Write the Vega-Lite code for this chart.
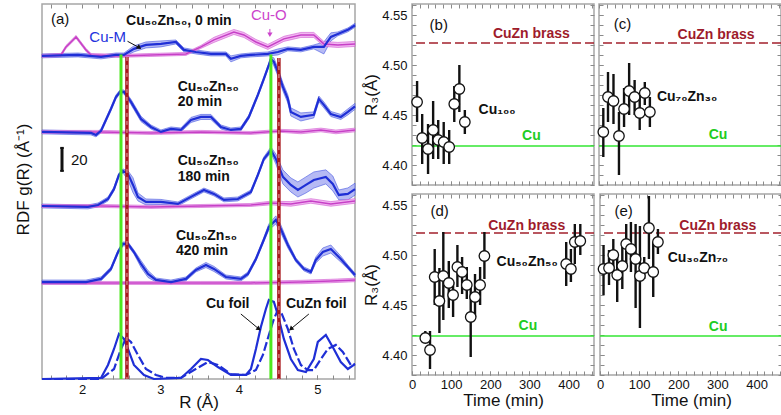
{
"$schema":"https://vega.github.io/schema/vega-lite/v6.json",
"padding":{"left":13,"top":2,"right":0,"bottom":0},
"background":"white",
"config":{"font":"Liberation Sans","view":{"stroke":"#a6a6a6","strokeWidth":1.5},
"axis":{"domain":false,"grid":false,"tickColor":"#8a8a8a","labelFont":"Liberation Sans","titleFont":"Liberation Sans","labelColor":"#111","titleColor":"#111","labelFontSize":13,"titleFontSize":17,"titleFontWeight":"normal","labelFlush":false,"labelOverlap":false,"minExtent":0},
"text":{"font":"Liberation Sans"}},
"datasets":{
"rdf":[
{"s":"b0","R":1.49,"v":280.9,"lo":279.2,"hi":282.6},{"s":"b0","R":1.949,"v":281.7,"lo":280.0,"hi":283.4},{"s":"b0","R":2.242,"v":280.0,"lo":278.3,"hi":281.7},{"s":"b0","R":2.433,"v":281.7,"lo":280.0,"hi":283.4},{"s":"b0","R":2.535,"v":281.7,"lo":280.0,"hi":283.4},{"s":"b0","R":2.662,"v":287.0,"lo":284.4,"hi":289.6},{"s":"b0","R":2.815,"v":290.4,"lo":287.8,"hi":293.0},{"s":"b0","R":3.006,"v":291.3,"lo":288.7,"hi":293.9},{"s":"b0","R":3.197,"v":293.0,"lo":291.3,"hi":294.7},{"s":"b0","R":3.299,"v":286.1,"lo":284.4,"hi":287.8},{"s":"b0","R":3.452,"v":284.3,"lo":282.6,"hi":286.0},{"s":"b0","R":3.643,"v":282.6,"lo":280.9,"hi":284.3},{"s":"b0","R":3.834,"v":282.6,"lo":280.9,"hi":284.3},{"s":"b0","R":3.898,"v":278.3,"lo":275.7,"hi":280.9},{"s":"b0","R":4.025,"v":280.9,"lo":279.2,"hi":282.6},{"s":"b0","R":4.153,"v":281.7,"lo":280.0,"hi":283.4},{"s":"b0","R":4.369,"v":282.6,"lo":280.9,"hi":284.3},{"s":"b0","R":4.497,"v":284.3,"lo":281.7,"hi":286.9},{"s":"b0","R":4.624,"v":287.0,"lo":285.3,"hi":288.7},{"s":"b0","R":4.79,"v":286.1,"lo":284.4,"hi":287.8},{"s":"b0","R":4.955,"v":288.7,"lo":287.0,"hi":290.4},{"s":"b0","R":5.083,"v":288.7,"lo":282.6,"hi":293.0},{"s":"b0","R":5.172,"v":297.4,"lo":293.9,"hi":300.9},{"s":"b0","R":5.261,"v":300.0,"lo":298.3,"hi":301.7},{"s":"b0","R":5.389,"v":303.5,"lo":301.8,"hi":305.2},{"s":"b0","R":5.48,"v":307.5,"lo":305.8,"hi":309.2},
{"s":"m0","R":1.49,"v":280.9,"lo":279.6,"hi":282.2},{"s":"m0","R":1.732,"v":281.7,"lo":280.4,"hi":283.0},{"s":"m0","R":1.796,"v":288.7,"lo":287.4,"hi":290.0},{"s":"m0","R":1.924,"v":297.4,"lo":296.1,"hi":298.7},{"s":"m0","R":2.051,"v":286.1,"lo":284.8,"hi":287.4},{"s":"m0","R":2.115,"v":281.7,"lo":280.4,"hi":283.0},{"s":"m0","R":2.497,"v":280.9,"lo":279.6,"hi":282.2},{"s":"m0","R":2.879,"v":281.7,"lo":280.4,"hi":283.0},{"s":"m0","R":3.325,"v":282.6,"lo":281.3,"hi":283.9},{"s":"m0","R":3.516,"v":288.7,"lo":287.4,"hi":290.0},{"s":"m0","R":3.682,"v":294.8,"lo":292.6,"hi":297.0},{"s":"m0","R":3.936,"v":301.7,"lo":299.5,"hi":303.9},{"s":"m0","R":4.064,"v":299.1,"lo":296.9,"hi":301.3},{"s":"m0","R":4.217,"v":293.0,"lo":290.8,"hi":295.2},{"s":"m0","R":4.369,"v":288.7,"lo":286.5,"hi":290.9},{"s":"m0","R":4.573,"v":295.7,"lo":293.5,"hi":297.9},{"s":"m0","R":4.79,"v":299.1,"lo":296.9,"hi":301.3},{"s":"m0","R":4.955,"v":299.1,"lo":296.9,"hi":301.3},{"s":"m0","R":5.083,"v":291.3,"lo":289.1,"hi":293.5},{"s":"m0","R":5.261,"v":290.4,"lo":288.2,"hi":292.6},{"s":"m0","R":5.48,"v":291.3,"lo":289.1,"hi":293.5},
{"s":"b20","R":1.49,"v":214.8,"lo":213.1,"hi":216.5},{"s":"b20","R":2.115,"v":213.9,"lo":212.2,"hi":215.6},{"s":"b20","R":2.178,"v":212.2,"lo":210.5,"hi":213.9},{"s":"b20","R":2.242,"v":215.7,"lo":214.0,"hi":217.4},{"s":"b20","R":2.369,"v":234.8,"lo":233.1,"hi":236.5},{"s":"b20","R":2.433,"v":245.2,"lo":243.5,"hi":246.9},{"s":"b20","R":2.484,"v":249.6,"lo":247.9,"hi":251.3},{"s":"b20","R":2.535,"v":249.6,"lo":247.9,"hi":251.3},{"s":"b20","R":2.624,"v":240.9,"lo":238.6,"hi":243.2},{"s":"b20","R":2.752,"v":226.1,"lo":223.8,"hi":228.4},{"s":"b20","R":2.879,"v":219.1,"lo":217.4,"hi":220.8},{"s":"b20","R":3.006,"v":214.8,"lo":213.1,"hi":216.5},{"s":"b20","R":3.134,"v":217.4,"lo":215.7,"hi":219.1},{"s":"b20","R":3.261,"v":216.5,"lo":214.8,"hi":218.2},{"s":"b20","R":3.389,"v":225.2,"lo":223.0,"hi":227.4},{"s":"b20","R":3.516,"v":227.8,"lo":225.6,"hi":230.0},{"s":"b20","R":3.643,"v":227.8,"lo":225.6,"hi":230.0},{"s":"b20","R":3.771,"v":219.1,"lo":217.4,"hi":220.8},{"s":"b20","R":3.898,"v":216.5,"lo":214.8,"hi":218.2},{"s":"b20","R":4.025,"v":217.4,"lo":215.7,"hi":219.1},{"s":"b20","R":4.127,"v":227.8,"lo":226.1,"hi":229.5},{"s":"b20","R":4.242,"v":247.0,"lo":245.3,"hi":248.7},{"s":"b20","R":4.318,"v":260.9,"lo":259.2,"hi":262.6},{"s":"b20","R":4.382,"v":273.0,"lo":271.3,"hi":274.7},{"s":"b20","R":4.408,"v":278.3,"lo":276.6,"hi":280.0},{"s":"b20","R":4.446,"v":275.7,"lo":272.2,"hi":279.2},{"s":"b20","R":4.497,"v":267.0,"lo":263.5,"hi":270.5},{"s":"b20","R":4.561,"v":253.9,"lo":250.4,"hi":257.4},{"s":"b20","R":4.624,"v":243.5,"lo":240.0,"hi":247.0},{"s":"b20","R":4.662,"v":232.2,"lo":228.7,"hi":235.7},{"s":"b20","R":4.79,"v":227.8,"lo":224.3,"hi":231.3},{"s":"b20","R":4.955,"v":229.6,"lo":227.0,"hi":232.2},{"s":"b20","R":5.019,"v":243.5,"lo":241.0,"hi":246.0},{"s":"b20","R":5.083,"v":238.3,"lo":235.7,"hi":240.9},{"s":"b20","R":5.172,"v":230.4,"lo":228.2,"hi":232.6},{"s":"b20","R":5.299,"v":227.8,"lo":225.6,"hi":230.0},{"s":"b20","R":5.389,"v":232.2,"lo":229.6,"hi":234.8},{"s":"b20","R":5.48,"v":237.0,"lo":234.4,"hi":239.6},
{"s":"m20","R":1.49,"v":214.8,"lo":213.5,"hi":216.1},{"s":"m20","R":2.242,"v":214.8,"lo":213.5,"hi":216.1},{"s":"m20","R":2.879,"v":213.9,"lo":212.6,"hi":215.2},{"s":"m20","R":3.516,"v":214.8,"lo":213.5,"hi":216.1},{"s":"m20","R":4.153,"v":213.9,"lo":212.6,"hi":215.2},{"s":"m20","R":4.535,"v":215.7,"lo":214.4,"hi":217.0},{"s":"m20","R":4.79,"v":214.8,"lo":213.2,"hi":216.4},{"s":"m20","R":5.045,"v":216.5,"lo":214.9,"hi":218.1},{"s":"m20","R":5.236,"v":214.8,"lo":213.2,"hi":216.4},{"s":"m20","R":5.48,"v":216.5,"lo":214.9,"hi":218.1},
{"s":"b180","R":1.49,"v":150.4,"lo":148.7,"hi":152.1},{"s":"b180","R":2.076,"v":149.6,"lo":147.9,"hi":151.3},{"s":"b180","R":2.204,"v":151.3,"lo":149.6,"hi":153.0},{"s":"b180","R":2.331,"v":156.5,"lo":154.8,"hi":158.2},{"s":"b180","R":2.408,"v":165.2,"lo":163.5,"hi":166.9},{"s":"b180","R":2.471,"v":177.4,"lo":175.7,"hi":179.1},{"s":"b180","R":2.522,"v":180.9,"lo":179.2,"hi":182.6},{"s":"b180","R":2.586,"v":178.3,"lo":173.0,"hi":181.0},{"s":"b180","R":2.65,"v":168.7,"lo":162.0,"hi":175.0},{"s":"b180","R":2.713,"v":158.3,"lo":154.8,"hi":161.8},{"s":"b180","R":2.815,"v":153.9,"lo":151.3,"hi":156.5},{"s":"b180","R":3.006,"v":153.9,"lo":151.7,"hi":156.1},{"s":"b180","R":3.223,"v":152.2,"lo":150.5,"hi":153.9},{"s":"b180","R":3.389,"v":158.3,"lo":156.6,"hi":160.0},{"s":"b180","R":3.554,"v":164.3,"lo":162.6,"hi":166.0},{"s":"b180","R":3.682,"v":160.9,"lo":159.2,"hi":162.6},{"s":"b180","R":3.809,"v":155.7,"lo":154.0,"hi":157.4},{"s":"b180","R":3.987,"v":156.5,"lo":154.8,"hi":158.2},{"s":"b180","R":4.153,"v":162.6,"lo":160.9,"hi":164.3},{"s":"b180","R":4.242,"v":177.4,"lo":175.7,"hi":179.1},{"s":"b180","R":4.318,"v":191.3,"lo":189.6,"hi":193.0},{"s":"b180","R":4.408,"v":199.1,"lo":196.5,"hi":201.7},{"s":"b180","R":4.471,"v":191.3,"lo":187.0,"hi":195.6},{"s":"b180","R":4.561,"v":175.7,"lo":169.6,"hi":181.8},{"s":"b180","R":4.662,"v":168.7,"lo":162.6,"hi":174.8},{"s":"b180","R":4.752,"v":164.3,"lo":158.2,"hi":171.3},{"s":"b180","R":4.854,"v":168.7,"lo":161.7,"hi":175.7},{"s":"b180","R":4.955,"v":173.0,"lo":166.0,"hi":180.0},{"s":"b180","R":5.108,"v":175.7,"lo":169.6,"hi":181.8},{"s":"b180","R":5.197,"v":169.6,"lo":163.5,"hi":176.5},{"s":"b180","R":5.274,"v":160.0,"lo":155.7,"hi":164.3},{"s":"b180","R":5.389,"v":160.9,"lo":155.7,"hi":166.1},{"s":"b180","R":5.48,"v":165.0,"lo":159.8,"hi":170.2},
{"s":"m180","R":1.49,"v":150.4,"lo":149.1,"hi":151.7},{"s":"m180","R":2.242,"v":150.4,"lo":149.1,"hi":151.7},{"s":"m180","R":2.879,"v":149.6,"lo":148.3,"hi":150.9},{"s":"m180","R":3.516,"v":150.4,"lo":149.1,"hi":151.7},{"s":"m180","R":4.153,"v":151.3,"lo":150.0,"hi":152.6},{"s":"m180","R":4.408,"v":153.0,"lo":151.4,"hi":154.6},{"s":"m180","R":4.662,"v":152.2,"lo":150.2,"hi":154.2},{"s":"m180","R":4.917,"v":154.8,"lo":152.8,"hi":156.8},{"s":"m180","R":5.172,"v":152.2,"lo":150.2,"hi":154.2},{"s":"m180","R":5.48,"v":154.8,"lo":152.8,"hi":156.8},
{"s":"b420","R":1.49,"v":84.3,"lo":82.6,"hi":86.0},{"s":"b420","R":2.051,"v":84.3,"lo":82.6,"hi":86.0},{"s":"b420","R":2.242,"v":87.0,"lo":85.3,"hi":88.7},{"s":"b420","R":2.369,"v":95.7,"lo":94.0,"hi":97.4},{"s":"b420","R":2.459,"v":110.4,"lo":108.7,"hi":112.1},{"s":"b420","R":2.522,"v":117.4,"lo":115.7,"hi":119.1},{"s":"b420","R":2.586,"v":117.4,"lo":115.7,"hi":119.1},{"s":"b420","R":2.662,"v":110.4,"lo":108.7,"hi":112.1},{"s":"b420","R":2.752,"v":100.0,"lo":97.0,"hi":103.0},{"s":"b420","R":2.841,"v":91.3,"lo":88.3,"hi":94.3},{"s":"b420","R":2.943,"v":86.1,"lo":84.4,"hi":87.8},{"s":"b420","R":3.134,"v":84.3,"lo":82.6,"hi":86.0},{"s":"b420","R":3.325,"v":87.0,"lo":85.3,"hi":88.7},{"s":"b420","R":3.452,"v":94.8,"lo":93.1,"hi":96.5},{"s":"b420","R":3.58,"v":99.1,"lo":96.9,"hi":101.3},{"s":"b420","R":3.682,"v":95.7,"lo":93.5,"hi":97.9},{"s":"b420","R":3.834,"v":88.7,"lo":87.0,"hi":90.4},{"s":"b420","R":4.025,"v":87.0,"lo":85.3,"hi":88.7},{"s":"b420","R":4.115,"v":91.3,"lo":89.6,"hi":93.0},{"s":"b420","R":4.217,"v":104.3,"lo":102.6,"hi":106.0},{"s":"b420","R":4.306,"v":119.1,"lo":117.4,"hi":120.8},{"s":"b420","R":4.382,"v":132.2,"lo":129.6,"hi":134.8},{"s":"b420","R":4.471,"v":138.3,"lo":134.8,"hi":141.8},{"s":"b420","R":4.535,"v":130.4,"lo":126.9,"hi":133.9},{"s":"b420","R":4.624,"v":116.5,"lo":113.9,"hi":119.1},{"s":"b420","R":4.726,"v":103.5,"lo":101.8,"hi":105.2},{"s":"b420","R":4.828,"v":95.7,"lo":94.0,"hi":97.4},{"s":"b420","R":4.917,"v":93.0,"lo":91.3,"hi":94.7},{"s":"b420","R":4.981,"v":103.5,"lo":100.9,"hi":106.1},{"s":"b420","R":5.07,"v":110.4,"lo":106.9,"hi":113.9},{"s":"b420","R":5.172,"v":113.0,"lo":109.5,"hi":116.5},{"s":"b420","R":5.299,"v":104.3,"lo":101.7,"hi":106.9},{"s":"b420","R":5.389,"v":97.4,"lo":95.7,"hi":99.1},{"s":"b420","R":5.48,"v":90.4,"lo":88.7,"hi":92.1},
{"s":"m420","R":1.49,"v":83.5,"lo":82.2,"hi":84.8},{"s":"m420","R":2.242,"v":83.5,"lo":82.2,"hi":84.8},{"s":"m420","R":3.516,"v":83.5,"lo":82.2,"hi":84.8},{"s":"m420","R":4.153,"v":83.5,"lo":82.2,"hi":84.8},{"s":"m420","R":4.79,"v":84.3,"lo":82.8,"hi":85.8},{"s":"m420","R":5.172,"v":85.2,"lo":83.7,"hi":86.7},{"s":"m420","R":5.48,"v":86.1,"lo":84.6,"hi":87.6},
{"s":"cuf","R":1.49,"v":0},{"s":"cuf","R":2.242,"v":0.9},{"s":"cuf","R":2.331,"v":12.2},{"s":"cuf","R":2.408,"v":26.1},{"s":"cuf","R":2.471,"v":39.1},{"s":"cuf","R":2.535,"v":34.8},{"s":"cuf","R":2.586,"v":26.1},{"s":"cuf","R":2.662,"v":12.2},{"s":"cuf","R":2.79,"v":3.5},{"s":"cuf","R":2.917,"v":0},{"s":"cuf","R":3.261,"v":0.9},{"s":"cuf","R":3.389,"v":8.7},{"s":"cuf","R":3.516,"v":17.4},{"s":"cuf","R":3.605,"v":16.5},{"s":"cuf","R":3.732,"v":10.4},{"s":"cuf","R":3.898,"v":3.5},{"s":"cuf","R":4.089,"v":3.5},{"s":"cuf","R":4.153,"v":8.7},{"s":"cuf","R":4.217,"v":26.1},{"s":"cuf","R":4.28,"v":45.2},{"s":"cuf","R":4.344,"v":60.9},{"s":"cuf","R":4.382,"v":68.7},{"s":"cuf","R":4.446,"v":67.0},{"s":"cuf","R":4.497,"v":55.7},{"s":"cuf","R":4.573,"v":34.8},{"s":"cuf","R":4.662,"v":17.4},{"s":"cuf","R":4.752,"v":7.8},{"s":"cuf","R":4.854,"v":6.1},{"s":"cuf","R":4.955,"v":17.4},{"s":"cuf","R":5.006,"v":32.2},{"s":"cuf","R":5.108,"v":38.3},{"s":"cuf","R":5.21,"v":26.1},{"s":"cuf","R":5.299,"v":14.8},{"s":"cuf","R":5.389,"v":8.7},{"s":"cuf","R":5.48,"v":13.0},
{"s":"czf","R":1.49,"v":0},{"s":"czf","R":2.242,"v":0},{"s":"czf","R":2.408,"v":8.7},{"s":"czf","R":2.497,"v":26.1},{"s":"czf","R":2.561,"v":35.7},{"s":"czf","R":2.624,"v":32.2},{"s":"czf","R":2.713,"v":20.9},{"s":"czf","R":2.815,"v":8.7},{"s":"czf","R":2.943,"v":3.5},{"s":"czf","R":3.07,"v":0.9},{"s":"czf","R":3.261,"v":0.9},{"s":"czf","R":3.427,"v":7.8},{"s":"czf","R":3.605,"v":14.8},{"s":"czf","R":3.732,"v":12.2},{"s":"czf","R":3.898,"v":4.3},{"s":"czf","R":4.089,"v":3.5},{"s":"czf","R":4.217,"v":7.8},{"s":"czf","R":4.306,"v":20.9},{"s":"czf","R":4.382,"v":38.3},{"s":"czf","R":4.446,"v":52.2},{"s":"czf","R":4.497,"v":60.0},{"s":"czf","R":4.548,"v":56.5},{"s":"czf","R":4.624,"v":43.5},{"s":"czf","R":4.701,"v":26.1},{"s":"czf","R":4.79,"v":12.2},{"s":"czf","R":4.879,"v":7.8},{"s":"czf","R":4.955,"v":7.8},{"s":"czf","R":5.045,"v":17.4},{"s":"czf","R":5.134,"v":26.1},{"s":"czf","R":5.236,"v":29.6},{"s":"czf","R":5.325,"v":23.5},{"s":"czf","R":5.427,"v":12.2},{"s":"czf","R":5.48,"v":13.0}
],
"vl":[{"k":"Cu","R":2.497,"top":282,"bot":0},{"k":"Cu","R":4.408,"top":282,"bot":0},{"k":"CuZn","R":2.573,"top":280,"bot":0},{"k":"CuZn","R":4.51,"top":279,"bot":0}],
"arr":[{"n":"cum","k":"blk","R":2.58,"v":293.6,"R2":2.73,"v2":288.1},{"n":"cuo","k":"cuo","R":4.395,"v":304.3,"R2":4.395,"v2":299.3},{"n":"cuf","k":"blk","R":4.025,"v":56.5,"R2":4.255,"v2":43.5},{"n":"czf","k":"blk","R":4.892,"v":56.5,"R2":4.662,"v2":43.5}],
"atxt":[{"k":"blk","R":1.605,"v":313.3,"txt":"(a)"},{"k":"cum","R":2.093,"v":297.4,"txt":"Cu-M"},{"k":"cuo","R":4.153,"v":316.2,"txt":"Cu-O"},{"k":"blk","R":1.86,"v":190.2,"txt":"20"}],
"abold":[{"R":2.561,"v":311.1,"txt":"Cu₅₀Zn₅₀, 0 min"},{"R":3.219,"v":253.8,"txt":"Cu₅₀Zn₅₀"},{"R":3.219,"v":240.4,"txt":"20 min"},{"R":3.219,"v":189.2,"txt":"Cu₅₀Zn₅₀"},{"R":3.219,"v":175.8,"txt":"180 min"},{"R":3.197,"v":124.4,"txt":"Cu₅₀Zn₅₀"},{"R":3.197,"v":111.0,"txt":"420 min"},{"R":3.58,"v":65.5,"txt":"Cu foil"},{"R":4.599,"v":65.5,"txt":"CuZn foil"}],
"refs":[{"k":"brass","r":4.522},{"k":"cu","r":4.419}],
"r3":[
{"p":"b","t":13,"r":4.463,"lo":4.443,"hi":4.484},{"p":"b","t":26,"r":4.427,"lo":4.401,"hi":4.451},{"p":"b","t":41,"r":4.416,"lo":4.391,"hi":4.441},{"p":"b","t":54,"r":4.435,"lo":4.406,"hi":4.464},{"p":"b","t":67,"r":4.425,"lo":4.406,"hi":4.445},{"p":"b","t":81,"r":4.423,"lo":4.401,"hi":4.443},{"p":"b","t":95,"r":4.418,"lo":4.401,"hi":4.435},{"p":"b","t":108,"r":4.461,"lo":4.443,"hi":4.479},{"p":"b","t":121,"r":4.476,"lo":4.453,"hi":4.5},{"p":"b","t":135,"r":4.443,"lo":4.431,"hi":4.455},
{"p":"c","t":11,"r":4.433,"lo":4.408,"hi":4.457},{"p":"c","t":23,"r":4.468,"lo":4.443,"hi":4.493},{"p":"c","t":37,"r":4.464,"lo":4.441,"hi":4.491},{"p":"c","t":51,"r":4.429,"lo":4.39,"hi":4.453},{"p":"c","t":64,"r":4.456,"lo":4.438,"hi":4.477},{"p":"c","t":77,"r":4.474,"lo":4.45,"hi":4.502},{"p":"c","t":91,"r":4.468,"lo":4.45,"hi":4.485},{"p":"c","t":104,"r":4.452,"lo":4.435,"hi":4.47},{"p":"c","t":117,"r":4.472,"lo":4.46,"hi":4.483},{"p":"c","t":130,"r":4.453,"lo":4.438,"hi":4.468},
{"p":"d","t":34,"r":4.417,"lo":4.414,"hi":4.424},{"p":"d","t":46,"r":4.405,"lo":4.386,"hi":4.424},{"p":"d","t":58,"r":4.478,"lo":4.45,"hi":4.506},{"p":"d","t":70,"r":4.454,"lo":4.422,"hi":4.487},{"p":"d","t":80,"r":4.479,"lo":4.435,"hi":4.523},{"p":"d","t":94,"r":4.472,"lo":4.447,"hi":4.494},{"p":"d","t":105,"r":4.46,"lo":4.438,"hi":4.473},{"p":"d","t":116,"r":4.488,"lo":4.468,"hi":4.51},{"p":"d","t":128,"r":4.483,"lo":4.461,"hi":4.498},{"p":"d","t":140,"r":4.47,"lo":4.456,"hi":4.488},{"p":"d","t":150,"r":4.438,"lo":4.398,"hi":4.47},{"p":"d","t":161,"r":4.458,"lo":4.438,"hi":4.481},{"p":"d","t":174,"r":4.47,"lo":4.45,"hi":4.488},{"p":"d","t":185,"r":4.499,"lo":4.476,"hi":4.523},{"p":"d","t":394,"r":4.491,"lo":4.469,"hi":4.513},{"p":"d","t":406,"r":4.486,"lo":4.473,"hi":4.506},{"p":"d","t":416,"r":4.513,"lo":4.491,"hi":4.531},{"p":"d","t":430,"r":4.514,"lo":4.5,"hi":4.531},
{"p":"e","t":9,"r":4.486,"lo":4.46,"hi":4.51},{"p":"e","t":23,"r":4.487,"lo":4.47,"hi":4.505},{"p":"e","t":34,"r":4.5,"lo":4.481,"hi":4.516},{"p":"e","t":44,"r":4.48,"lo":4.453,"hi":4.5},{"p":"e","t":57,"r":4.489,"lo":4.466,"hi":4.508},{"p":"e","t":67,"r":4.511,"lo":4.491,"hi":4.531},{"p":"e","t":79,"r":4.506,"lo":4.483,"hi":4.533},{"p":"e","t":91,"r":4.496,"lo":4.447,"hi":4.531},{"p":"e","t":102,"r":4.479,"lo":4.427,"hi":4.529},{"p":"e","t":113,"r":4.487,"lo":4.476,"hi":4.498},{"p":"e","t":125,"r":4.527,"lo":4.496,"hi":4.559},{"p":"e","t":136,"r":4.483,"lo":4.458,"hi":4.513},{"p":"e","t":148,"r":4.513,"lo":4.501,"hi":4.526}
],
"r3lab":[
{"p":"b","k":"letter","t":45,"r":4.54,"txt":"(b)"},{"p":"b","k":"brass","t":305,"r":4.531,"txt":"CuZn brass"},{"p":"b","k":"cu","t":305,"r":4.429,"txt":"Cu"},{"p":"b","k":"sample","t":170,"r":4.455,"txt":"Cu₁₀₀"},
{"p":"c","k":"letter","t":38,"r":4.541,"txt":"(c)"},{"p":"c","k":"brass","t":299,"r":4.53,"txt":"CuZn brass"},{"p":"c","k":"cu","t":304,"r":4.43,"txt":"Cu"},{"p":"c","k":"sample","t":148,"r":4.468,"txt":"Cu₇₀Zn₃₀"},
{"p":"d","k":"letter","t":47,"r":4.544,"txt":"(d)"},{"p":"d","k":"brass","t":293,"r":4.529,"txt":"CuZn brass"},{"p":"d","k":"cu","t":296,"r":4.429,"txt":"Cu"},{"p":"d","k":"sample","t":216,"r":4.493,"txt":"Cu₅₀Zn₅₀"},
{"p":"e","k":"letter","t":37,"r":4.544,"txt":"(e)"},{"p":"e","k":"brass","t":301,"r":4.529,"txt":"CuZn brass"},{"p":"e","k":"cu","t":302,"r":4.428,"txt":"Cu"},{"p":"e","k":"sample","t":173,"r":4.497,"txt":"Cu₃₀Zn₇₀"}
]
},
"spacing":0,
"hconcat":[
{"width":313,"height":375,
 "layer":[
  {"layer":[
   {"data":{"name":"rdf"},"transform":[{"filter":"indexof(['b0','b20','b180','b420'], datum.s) >= 0"}],
    "mark":{"type":"area","fill":"#a9aef2","fillOpacity":0.85,"stroke":"#4455e0","strokeWidth":0.6},
    "encoding":{"x":{"field":"R","type":"quantitative","scale":{"domain":[1.49,5.48],"nice":false,"zero":false},
       "axis":{"orient":"bottom","values":[2,3,4,5],"format":"d","tickSize":-4,"labelPadding":8,"title":"R (Å)","titlePadding":-2}},
     "y":{"field":"lo","type":"quantitative","scale":{"domain":[0,326],"nice":false,"zero":false},
       "axis":{"orient":"left","ticks":false,"labels":false,"title":"RDF g(R) (Å⁻¹)","titlePadding":10,"titleY":175}},
     "y2":{"field":"hi"},"detail":{"field":"s"}}},
   {"data":{"name":"rdf"},"transform":[{"filter":"indexof(['m0','m20','m180','m420'], datum.s) >= 0"}],
    "mark":{"type":"area","fill":"#efa3ef","fillOpacity":0.8,"stroke":"#d060d0","strokeWidth":0.6},
    "encoding":{"x":{"field":"R","type":"quantitative","scale":{"domain":[1.49,5.48],"nice":false,"zero":false}},
     "y":{"field":"lo","type":"quantitative","scale":{"domain":[0,326],"nice":false,"zero":false}},
     "y2":{"field":"hi"},"detail":{"field":"s"}}},
   {"data":{"name":"rdf"},"transform":[{"filter":"indexof(['m0','m20','m180','m420'], datum.s) >= 0"}],
    "mark":{"type":"line","color":"#c640c6","strokeWidth":1.5},
    "encoding":{"x":{"field":"R","type":"quantitative","scale":{"domain":[1.49,5.48],"nice":false,"zero":false}},
     "y":{"field":"v","type":"quantitative","scale":{"domain":[0,326],"nice":false,"zero":false}},"detail":{"field":"s"}}},
   {"data":{"name":"rdf"},"transform":[{"filter":"indexof(['b0','b20','b180','b420','cuf'], datum.s) >= 0"}],
    "mark":{"type":"line","color":"#1f2fd6","strokeWidth":2.2},
    "encoding":{"x":{"field":"R","type":"quantitative","scale":{"domain":[1.49,5.48],"nice":false,"zero":false}},
     "y":{"field":"v","type":"quantitative","scale":{"domain":[0,326],"nice":false,"zero":false}},"detail":{"field":"s"}}},
   {"data":{"name":"rdf"},"transform":[{"filter":"datum.s == 'czf'"}],
    "mark":{"type":"line","color":"#1f2fd6","strokeWidth":2.2,"strokeDash":[9,3]},
    "encoding":{"x":{"field":"R","type":"quantitative","scale":{"domain":[1.49,5.48],"nice":false,"zero":false}},
     "y":{"field":"v","type":"quantitative","scale":{"domain":[0,326],"nice":false,"zero":false}}}},
   {"data":{"values":[{"R":1.745,"v":180.9,"v2":200.9}]},
    "mark":{"type":"rule","color":"#111","strokeWidth":3},
    "encoding":{"x":{"field":"R","type":"quantitative","scale":{"domain":[1.49,5.48],"nice":false,"zero":false}},
     "y":{"field":"v","type":"quantitative","scale":{"domain":[0,326],"nice":false,"zero":false}},"y2":{"field":"v2"}}},
   {"data":{"values":[{"R":1.722,"R2":1.768,"v":180.9},{"R":1.722,"R2":1.768,"v":200.9}]},
    "mark":{"type":"rule","color":"#111","strokeWidth":2},
    "encoding":{"x":{"field":"R","type":"quantitative","scale":{"domain":[1.49,5.48],"nice":false,"zero":false}},"x2":{"field":"R2"},
     "y":{"field":"v","type":"quantitative","scale":{"domain":[0,326],"nice":false,"zero":false}}}},
   {"data":{"name":"arr"},
    "mark":{"type":"rule","strokeWidth":1},
    "encoding":{"x":{"field":"R","type":"quantitative","scale":{"domain":[1.49,5.48],"nice":false,"zero":false}},"x2":{"field":"R2"},
     "y":{"field":"v","type":"quantitative","scale":{"domain":[0,326],"nice":false,"zero":false}},"y2":{"field":"v2"},
     "color":{"field":"k","type":"nominal","scale":{"domain":["blk","cum","cuo","brass","cu"],"range":["#111111","#2233dd","#cc44cc","#9e1b2b","#22cc22"]},"legend":null}}},
   {"data":{"name":"arr"},"transform":[{"filter":"datum.n == 'cum' || datum.n == 'cuf'"}],
    "mark":{"type":"point","shape":"triangle-up","filled":true,"color":"#111","size":28,"angle":125,"opacity":1},
    "encoding":{"x":{"field":"R2","type":"quantitative","scale":{"domain":[1.49,5.48],"nice":false,"zero":false}},
     "y":{"field":"v2","type":"quantitative","scale":{"domain":[0,326],"nice":false,"zero":false}}}},
   {"data":{"name":"arr"},"transform":[{"filter":"datum.n == 'cuo'"}],
    "mark":{"type":"point","shape":"triangle-up","filled":true,"color":"#cc44cc","size":28,"angle":180,"opacity":1},
    "encoding":{"x":{"field":"R2","type":"quantitative","scale":{"domain":[1.49,5.48],"nice":false,"zero":false}},
     "y":{"field":"v2","type":"quantitative","scale":{"domain":[0,326],"nice":false,"zero":false}}}},
   {"data":{"name":"arr"},"transform":[{"filter":"datum.n == 'czf'"}],
    "mark":{"type":"point","shape":"triangle-up","filled":true,"color":"#111","size":28,"angle":230,"opacity":1},
    "encoding":{"x":{"field":"R2","type":"quantitative","scale":{"domain":[1.49,5.48],"nice":false,"zero":false}},
     "y":{"field":"v2","type":"quantitative","scale":{"domain":[0,326],"nice":false,"zero":false}}}},
   {"data":{"name":"atxt"},
    "mark":{"type":"text","fontSize":15,"align":"left","baseline":"middle"},
    "encoding":{"x":{"field":"R","type":"quantitative","scale":{"domain":[1.49,5.48],"nice":false,"zero":false}},
     "y":{"field":"v","type":"quantitative","scale":{"domain":[0,326],"nice":false,"zero":false}},"text":{"field":"txt"},
     "color":{"field":"k","type":"nominal","scale":{"domain":["blk","cum","cuo","brass","cu"],"range":["#111111","#2233dd","#cc44cc","#9e1b2b","#22cc22"]},"legend":null}}},
   {"data":{"name":"abold"},
    "mark":{"type":"text","fontSize":14,"fontWeight":"bold","align":"left","baseline":"middle","color":"#111"},
    "encoding":{"x":{"field":"R","type":"quantitative","scale":{"domain":[1.49,5.48],"nice":false,"zero":false}},
     "y":{"field":"v","type":"quantitative","scale":{"domain":[0,326],"nice":false,"zero":false}},"text":{"field":"txt"}}}
  ]},
  {"data":{"name":"vl"},"transform":[{"filter":"datum.k == 'Cu'"}],
   "mark":{"type":"rule","color":"#4ee81e","strokeWidth":3},
   "encoding":{"x":{"field":"R","type":"quantitative","scale":{"domain":[1.49,5.48],"nice":false,"zero":false},
      "axis":{"orient":"top","values":[1.6,1.8,2,2.2,2.4,2.6,2.8,3,3.2,3.4,3.6,3.8,4,4.2,4.4,4.6,4.8,5,5.2,5.4],"labels":false,"tickSize":-4,"title":null}},
    "y":{"field":"top","type":"quantitative","scale":{"domain":[0,326],"nice":false,"zero":false},"axis":null},"y2":{"field":"bot"}}},
  {"data":{"name":"vl"},"transform":[{"filter":"datum.k == 'CuZn'"}],
   "mark":{"type":"rule","color":"#a8161b","strokeWidth":3.5},
   "encoding":{"x":{"field":"R","type":"quantitative","scale":{"domain":[1.49,5.48],"nice":false,"zero":false},
      "axis":{"orient":"bottom","values":[1.6,1.8,2,2.2,2.4,2.6,2.8,3,3.2,3.4,3.6,3.8,4,4.2,4.4,4.6,4.8,5,5.2,5.4],"labels":false,"tickSize":-4,"title":null}},
    "y":{"field":"top","type":"quantitative","scale":{"domain":[0,326],"nice":false,"zero":false},"axis":null},"y2":{"field":"bot"}}},
  {"data":{"name":"vl"},"transform":[{"filter":"datum.k == 'CuZn'"}],
   "mark":{"type":"rule","color":"#f3d6d6","strokeWidth":0.8,"strokeDash":[4,4]},
   "encoding":{"x":{"field":"R","type":"quantitative","scale":{"domain":[1.49,5.48],"nice":false,"zero":false},"axis":null},
    "y":{"field":"top","type":"quantitative","scale":{"domain":[0,326],"nice":false,"zero":false},"axis":null},"y2":{"field":"bot"}}}
 ],
 "resolve":{"axis":{"x":"independent","y":"independent"}}
},
{"spacing":5,"vconcat":[
 {"spacing":-2,"hconcat":[
  {"width":182,"height":181,"layer":[
   {"layer":[
    {"data":{"name":"refs"},"transform":[{"filter":"datum.k=='brass'"}],"mark":{"type":"rule","color":"#a3202c","strokeWidth":1.6,"strokeDash":[9,4]},
     "encoding":{"y":{"field":"r","type":"quantitative","scale":{"domain":[4.38,4.561],"nice":false,"zero":false}}}},
    {"data":{"name":"refs"},"transform":[{"filter":"datum.k=='cu'"}],"mark":{"type":"rule","color":"#33e633","strokeWidth":1.6},
     "encoding":{"y":{"field":"r","type":"quantitative","scale":{"domain":[4.38,4.561],"nice":false,"zero":false}}}},
    {"data":{"name":"r3"},"transform":[{"filter":"datum.p=='b'"}],"mark":{"type":"rule","color":"#111","strokeWidth":2.4},
     "encoding":{"x":{"field":"t","type":"quantitative","scale":{"domain":[0,465],"nice":false,"zero":false},
        "axis":{"orient":"bottom","values":[0,100,200,300,400],"labels":false,"tickSize":-4,"title":null}},
      "y":{"field":"lo","type":"quantitative","scale":{"domain":[4.38,4.561],"nice":false,"zero":false},
        "axis":{"orient":"left","values":[4.4,4.45,4.5,4.55],"format":".2f","tickSize":-4,"labelPadding":9,"title":"R₃(Å)","titlePadding":1}},
      "y2":{"field":"hi"}}},
    {"data":{"name":"r3lab"},"transform":[{"filter":"datum.p=='b' && (datum.k=='brass' || datum.k=='cu')"}],"mark":{"type":"text","fontWeight":"bold","fontSize":14,"align":"center","baseline":"middle"},
     "encoding":{"x":{"field":"t","type":"quantitative","scale":{"domain":[0,465],"nice":false,"zero":false}},"y":{"field":"r","type":"quantitative","scale":{"domain":[4.38,4.561],"nice":false,"zero":false}},"text":{"field":"txt"},
      "color":{"field":"k","type":"nominal","scale":{"domain":["blk","cum","cuo","brass","cu"],"range":["#111111","#2233dd","#cc44cc","#9e1b2b","#22cc22"]},"legend":null}}},
    {"data":{"name":"r3lab"},"transform":[{"filter":"datum.p=='b' && datum.k=='sample'"}],"mark":{"type":"text","fontWeight":"bold","fontSize":14,"align":"left","baseline":"middle","color":"#111"},
     "encoding":{"x":{"field":"t","type":"quantitative","scale":{"domain":[0,465],"nice":false,"zero":false}},"y":{"field":"r","type":"quantitative","scale":{"domain":[4.38,4.561],"nice":false,"zero":false}},"text":{"field":"txt"}}}
   ]},
   {"data":{"name":"r3lab"},"transform":[{"filter":"datum.p=='b' && datum.k=='letter'"}],"mark":{"type":"text","fontSize":15,"align":"left","baseline":"middle","color":"#111"},
    "encoding":{"x":{"field":"t","type":"quantitative","scale":{"domain":[0,465],"nice":false,"zero":false},"axis":{"orient":"top","values":[0,20,40,60,80,100,120,140,160,180,200,220,240,260,280,300,320,340,360,380,400,420,440,460],"labels":false,"tickSize":-4,"title":null}},
     "y":{"field":"r","type":"quantitative","scale":{"domain":[4.38,4.561],"nice":false,"zero":false},"axis":{"orient":"right","values":[4.38,4.39,4.4,4.41,4.42,4.43,4.44,4.45,4.46,4.47,4.48,4.49,4.5,4.51,4.52,4.53,4.54,4.55,4.56],"labels":false,"tickSize":-4,"title":null}},"text":{"field":"txt"}}},
   {"data":{"name":"r3"},"transform":[{"filter":"datum.p=='b'"}],"mark":{"type":"point","shape":"circle","filled":true,"fill":"white","stroke":"#111","strokeWidth":1.3,"size":110,"opacity":1},
    "encoding":{"x":{"field":"t","type":"quantitative","scale":{"domain":[0,465],"nice":false,"zero":false},"axis":{"orient":"bottom","values":[0,20,40,60,80,100,120,140,160,180,200,220,240,260,280,300,320,340,360,380,400,420,440,460],"labels":false,"tickSize":-4,"title":null}},
     "y":{"field":"r","type":"quantitative","scale":{"domain":[4.38,4.561],"nice":false,"zero":false},"axis":{"orient":"left","values":[4.38,4.39,4.4,4.41,4.42,4.43,4.44,4.45,4.46,4.47,4.48,4.49,4.5,4.51,4.52,4.53,4.54,4.55,4.56],"labels":false,"tickSize":-4,"title":null}}}}
  ],"resolve":{"axis":{"x":"independent","y":"independent"}}},
  {"width":182,"height":181,"layer":[
   {"layer":[
    {"data":{"name":"refs"},"transform":[{"filter":"datum.k=='brass'"}],"mark":{"type":"rule","color":"#a3202c","strokeWidth":1.6,"strokeDash":[9,4]},
     "encoding":{"y":{"field":"r","type":"quantitative","scale":{"domain":[4.38,4.561],"nice":false,"zero":false}}}},
    {"data":{"name":"refs"},"transform":[{"filter":"datum.k=='cu'"}],"mark":{"type":"rule","color":"#33e633","strokeWidth":1.6},
     "encoding":{"y":{"field":"r","type":"quantitative","scale":{"domain":[4.38,4.561],"nice":false,"zero":false}}}},
    {"data":{"name":"r3"},"transform":[{"filter":"datum.p=='c'"}],"mark":{"type":"rule","color":"#111","strokeWidth":2.4},
     "encoding":{"x":{"field":"t","type":"quantitative","scale":{"domain":[0,465],"nice":false,"zero":false},
        "axis":{"orient":"bottom","values":[0,100,200,300,400],"labels":false,"tickSize":-4,"title":null}},
      "y":{"field":"lo","type":"quantitative","scale":{"domain":[4.38,4.561],"nice":false,"zero":false},
        "axis":{"orient":"left","values":[4.4,4.45,4.5,4.55],"labels":false,"tickSize":-4,"title":null}},
      "y2":{"field":"hi"}}},
    {"data":{"name":"r3lab"},"transform":[{"filter":"datum.p=='c' && (datum.k=='brass' || datum.k=='cu')"}],"mark":{"type":"text","fontWeight":"bold","fontSize":14,"align":"center","baseline":"middle"},
     "encoding":{"x":{"field":"t","type":"quantitative","scale":{"domain":[0,465],"nice":false,"zero":false}},"y":{"field":"r","type":"quantitative","scale":{"domain":[4.38,4.561],"nice":false,"zero":false}},"text":{"field":"txt"},
      "color":{"field":"k","type":"nominal","scale":{"domain":["blk","cum","cuo","brass","cu"],"range":["#111111","#2233dd","#cc44cc","#9e1b2b","#22cc22"]},"legend":null}}},
    {"data":{"name":"r3lab"},"transform":[{"filter":"datum.p=='c' && datum.k=='sample'"}],"mark":{"type":"text","fontWeight":"bold","fontSize":14,"align":"left","baseline":"middle","color":"#111"},
     "encoding":{"x":{"field":"t","type":"quantitative","scale":{"domain":[0,465],"nice":false,"zero":false}},"y":{"field":"r","type":"quantitative","scale":{"domain":[4.38,4.561],"nice":false,"zero":false}},"text":{"field":"txt"}}}
   ]},
   {"data":{"name":"r3lab"},"transform":[{"filter":"datum.p=='c' && datum.k=='letter'"}],"mark":{"type":"text","fontSize":15,"align":"left","baseline":"middle","color":"#111"},
    "encoding":{"x":{"field":"t","type":"quantitative","scale":{"domain":[0,465],"nice":false,"zero":false},"axis":{"orient":"top","values":[0,20,40,60,80,100,120,140,160,180,200,220,240,260,280,300,320,340,360,380,400,420,440,460],"labels":false,"tickSize":-4,"title":null}},
     "y":{"field":"r","type":"quantitative","scale":{"domain":[4.38,4.561],"nice":false,"zero":false},"axis":{"orient":"right","values":[4.38,4.39,4.4,4.41,4.42,4.43,4.44,4.45,4.46,4.47,4.48,4.49,4.5,4.51,4.52,4.53,4.54,4.55,4.56],"labels":false,"tickSize":-4,"title":null}},"text":{"field":"txt"}}},
   {"data":{"name":"r3"},"transform":[{"filter":"datum.p=='c'"}],"mark":{"type":"point","shape":"circle","filled":true,"fill":"white","stroke":"#111","strokeWidth":1.3,"size":110,"opacity":1},
    "encoding":{"x":{"field":"t","type":"quantitative","scale":{"domain":[0,465],"nice":false,"zero":false},"axis":{"orient":"bottom","values":[0,20,40,60,80,100,120,140,160,180,200,220,240,260,280,300,320,340,360,380,400,420,440,460],"labels":false,"tickSize":-4,"title":null}},
     "y":{"field":"r","type":"quantitative","scale":{"domain":[4.38,4.561],"nice":false,"zero":false},"axis":{"orient":"left","values":[4.38,4.39,4.4,4.41,4.42,4.43,4.44,4.45,4.46,4.47,4.48,4.49,4.5,4.51,4.52,4.53,4.54,4.55,4.56],"labels":false,"tickSize":-4,"title":null}}}}
  ],"resolve":{"axis":{"x":"independent","y":"independent"}}}
 ]},
 {"spacing":-2,"hconcat":[
  {"width":182,"height":181,"layer":[
   {"layer":[
    {"data":{"name":"refs"},"transform":[{"filter":"datum.k=='brass'"}],"mark":{"type":"rule","color":"#a3202c","strokeWidth":1.6,"strokeDash":[9,4]},
     "encoding":{"y":{"field":"r","type":"quantitative","scale":{"domain":[4.38,4.561],"nice":false,"zero":false}}}},
    {"data":{"name":"refs"},"transform":[{"filter":"datum.k=='cu'"}],"mark":{"type":"rule","color":"#33e633","strokeWidth":1.6},
     "encoding":{"y":{"field":"r","type":"quantitative","scale":{"domain":[4.38,4.561],"nice":false,"zero":false}}}},
    {"data":{"name":"r3"},"transform":[{"filter":"datum.p=='d'"}],"mark":{"type":"rule","color":"#111","strokeWidth":2.4},
     "encoding":{"x":{"field":"t","type":"quantitative","scale":{"domain":[0,465],"nice":false,"zero":false},
        "axis":{"orient":"bottom","values":[0,100,200,300,400],"format":"d","tickSize":-4,"labelPadding":7,"title":"Time (min)","titlePadding":1}},
      "y":{"field":"lo","type":"quantitative","scale":{"domain":[4.38,4.561],"nice":false,"zero":false},
        "axis":{"orient":"left","values":[4.4,4.45,4.5,4.55],"format":".2f","tickSize":-4,"labelPadding":9,"title":"R₃(Å)","titlePadding":1}},
      "y2":{"field":"hi"}}},
    {"data":{"name":"r3lab"},"transform":[{"filter":"datum.p=='d' && (datum.k=='brass' || datum.k=='cu')"}],"mark":{"type":"text","fontWeight":"bold","fontSize":14,"align":"center","baseline":"middle"},
     "encoding":{"x":{"field":"t","type":"quantitative","scale":{"domain":[0,465],"nice":false,"zero":false}},"y":{"field":"r","type":"quantitative","scale":{"domain":[4.38,4.561],"nice":false,"zero":false}},"text":{"field":"txt"},
      "color":{"field":"k","type":"nominal","scale":{"domain":["blk","cum","cuo","brass","cu"],"range":["#111111","#2233dd","#cc44cc","#9e1b2b","#22cc22"]},"legend":null}}},
    {"data":{"name":"r3lab"},"transform":[{"filter":"datum.p=='d' && datum.k=='sample'"}],"mark":{"type":"text","fontWeight":"bold","fontSize":14,"align":"left","baseline":"middle","color":"#111"},
     "encoding":{"x":{"field":"t","type":"quantitative","scale":{"domain":[0,465],"nice":false,"zero":false}},"y":{"field":"r","type":"quantitative","scale":{"domain":[4.38,4.561],"nice":false,"zero":false}},"text":{"field":"txt"}}}
   ]},
   {"data":{"name":"r3lab"},"transform":[{"filter":"datum.p=='d' && datum.k=='letter'"}],"mark":{"type":"text","fontSize":15,"align":"left","baseline":"middle","color":"#111"},
    "encoding":{"x":{"field":"t","type":"quantitative","scale":{"domain":[0,465],"nice":false,"zero":false},"axis":{"orient":"top","values":[0,20,40,60,80,100,120,140,160,180,200,220,240,260,280,300,320,340,360,380,400,420,440,460],"labels":false,"tickSize":-4,"title":null}},
     "y":{"field":"r","type":"quantitative","scale":{"domain":[4.38,4.561],"nice":false,"zero":false},"axis":{"orient":"right","values":[4.38,4.39,4.4,4.41,4.42,4.43,4.44,4.45,4.46,4.47,4.48,4.49,4.5,4.51,4.52,4.53,4.54,4.55,4.56],"labels":false,"tickSize":-4,"title":null}},"text":{"field":"txt"}}},
   {"data":{"name":"r3"},"transform":[{"filter":"datum.p=='d'"}],"mark":{"type":"point","shape":"circle","filled":true,"fill":"white","stroke":"#111","strokeWidth":1.3,"size":110,"opacity":1},
    "encoding":{"x":{"field":"t","type":"quantitative","scale":{"domain":[0,465],"nice":false,"zero":false},"axis":{"orient":"bottom","values":[0,20,40,60,80,100,120,140,160,180,200,220,240,260,280,300,320,340,360,380,400,420,440,460],"labels":false,"tickSize":-4,"title":null}},
     "y":{"field":"r","type":"quantitative","scale":{"domain":[4.38,4.561],"nice":false,"zero":false},"axis":{"orient":"left","values":[4.38,4.39,4.4,4.41,4.42,4.43,4.44,4.45,4.46,4.47,4.48,4.49,4.5,4.51,4.52,4.53,4.54,4.55,4.56],"labels":false,"tickSize":-4,"title":null}}}}
  ],"resolve":{"axis":{"x":"independent","y":"independent"}}},
  {"width":182,"height":181,"layer":[
   {"layer":[
    {"data":{"name":"refs"},"transform":[{"filter":"datum.k=='brass'"}],"mark":{"type":"rule","color":"#a3202c","strokeWidth":1.6,"strokeDash":[9,4]},
     "encoding":{"y":{"field":"r","type":"quantitative","scale":{"domain":[4.38,4.561],"nice":false,"zero":false}}}},
    {"data":{"name":"refs"},"transform":[{"filter":"datum.k=='cu'"}],"mark":{"type":"rule","color":"#33e633","strokeWidth":1.6},
     "encoding":{"y":{"field":"r","type":"quantitative","scale":{"domain":[4.38,4.561],"nice":false,"zero":false}}}},
    {"data":{"name":"r3"},"transform":[{"filter":"datum.p=='e'"}],"mark":{"type":"rule","color":"#111","strokeWidth":2.4},
     "encoding":{"x":{"field":"t","type":"quantitative","scale":{"domain":[0,465],"nice":false,"zero":false},
        "axis":{"orient":"bottom","values":[0,100,200,300,400],"format":"d","tickSize":-4,"labelPadding":7,"title":"Time (min)","titlePadding":1}},
      "y":{"field":"lo","type":"quantitative","scale":{"domain":[4.38,4.561],"nice":false,"zero":false},
        "axis":{"orient":"left","values":[4.4,4.45,4.5,4.55],"labels":false,"tickSize":-4,"title":null}},
      "y2":{"field":"hi"}}},
    {"data":{"name":"r3lab"},"transform":[{"filter":"datum.p=='e' && (datum.k=='brass' || datum.k=='cu')"}],"mark":{"type":"text","fontWeight":"bold","fontSize":14,"align":"center","baseline":"middle"},
     "encoding":{"x":{"field":"t","type":"quantitative","scale":{"domain":[0,465],"nice":false,"zero":false}},"y":{"field":"r","type":"quantitative","scale":{"domain":[4.38,4.561],"nice":false,"zero":false}},"text":{"field":"txt"},
      "color":{"field":"k","type":"nominal","scale":{"domain":["blk","cum","cuo","brass","cu"],"range":["#111111","#2233dd","#cc44cc","#9e1b2b","#22cc22"]},"legend":null}}},
    {"data":{"name":"r3lab"},"transform":[{"filter":"datum.p=='e' && datum.k=='sample'"}],"mark":{"type":"text","fontWeight":"bold","fontSize":14,"align":"left","baseline":"middle","color":"#111"},
     "encoding":{"x":{"field":"t","type":"quantitative","scale":{"domain":[0,465],"nice":false,"zero":false}},"y":{"field":"r","type":"quantitative","scale":{"domain":[4.38,4.561],"nice":false,"zero":false}},"text":{"field":"txt"}}}
   ]},
   {"data":{"name":"r3lab"},"transform":[{"filter":"datum.p=='e' && datum.k=='letter'"}],"mark":{"type":"text","fontSize":15,"align":"left","baseline":"middle","color":"#111"},
    "encoding":{"x":{"field":"t","type":"quantitative","scale":{"domain":[0,465],"nice":false,"zero":false},"axis":{"orient":"top","values":[0,20,40,60,80,100,120,140,160,180,200,220,240,260,280,300,320,340,360,380,400,420,440,460],"labels":false,"tickSize":-4,"title":null}},
     "y":{"field":"r","type":"quantitative","scale":{"domain":[4.38,4.561],"nice":false,"zero":false},"axis":{"orient":"right","values":[4.38,4.39,4.4,4.41,4.42,4.43,4.44,4.45,4.46,4.47,4.48,4.49,4.5,4.51,4.52,4.53,4.54,4.55,4.56],"labels":false,"tickSize":-4,"title":null}},"text":{"field":"txt"}}},
   {"data":{"name":"r3"},"transform":[{"filter":"datum.p=='e'"}],"mark":{"type":"point","shape":"circle","filled":true,"fill":"white","stroke":"#111","strokeWidth":1.3,"size":110,"opacity":1},
    "encoding":{"x":{"field":"t","type":"quantitative","scale":{"domain":[0,465],"nice":false,"zero":false},"axis":{"orient":"bottom","values":[0,20,40,60,80,100,120,140,160,180,200,220,240,260,280,300,320,340,360,380,400,420,440,460],"labels":false,"tickSize":-4,"title":null}},
     "y":{"field":"r","type":"quantitative","scale":{"domain":[4.38,4.561],"nice":false,"zero":false},"axis":{"orient":"left","values":[4.38,4.39,4.4,4.41,4.42,4.43,4.44,4.45,4.46,4.47,4.48,4.49,4.5,4.51,4.52,4.53,4.54,4.55,4.56],"labels":false,"tickSize":-4,"title":null}}}}
  ],"resolve":{"axis":{"x":"independent","y":"independent"}}}
 ]}
]}
]
}
